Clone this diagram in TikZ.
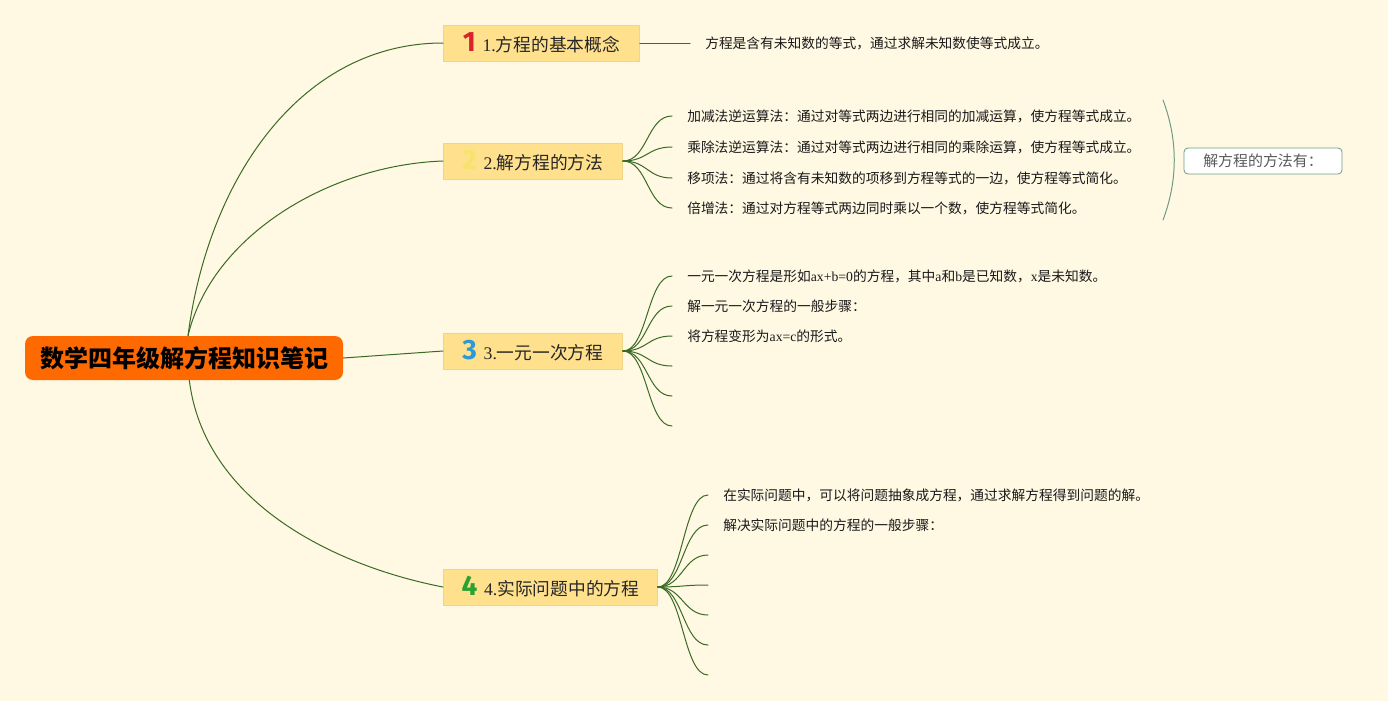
\documentclass[tikz,border=0pt]{standalone}
\usepackage{fontspec}
\setmainfont{Noto Sans CJK SC}
\newfontfamily\latin{Liberation Serif}
\newfontfamily\numfont{Fira Sans}
\newcommand{\lt}[1]{{\latin #1}}
\newcommand{\topicnum}[2]{{\numfont\bfseries\fontsize{21}{21}\selectfont\textcolor{#1}{#2}}\hspace{5pt}}

\definecolor{bgcream}{HTML}{FFF8E3}
\definecolor{linegreen}{HTML}{3A6B24}
\definecolor{topicfill}{HTML}{FFE18D}
\definecolor{topicdraw}{HTML}{F0D48A}
\definecolor{rootfill}{HTML}{FF6A00}
\definecolor{numred}{HTML}{D8232A}
\definecolor{numyellow}{HTML}{F7E36B}
\definecolor{numblue}{HTML}{2C9AD6}
\definecolor{numgreen}{HTML}{2BA12F}
\definecolor{summline}{HTML}{6E9C84}

\tikzset{
  root/.style={
    fill=rootfill, rounded corners=6pt,
    minimum width=238.5pt, minimum height=33pt,
    font=\bfseries\fontsize{18}{20}\selectfont, text=black
  },
  topic/.style={
    anchor=west, fill=topicfill, draw=topicdraw, line width=0.6pt,
    minimum height=27pt, inner xsep=10pt,
    font=\fontsize{13.3}{15}\selectfont, text=black!85
  },
  detail/.style={
    anchor=west, inner xsep=11.25pt, inner ysep=0pt,
    font=\fontsize{10.3}{12}\selectfont, text=black!90
  },
  link/.style={draw=linegreen, line width=0.75pt},
  summary/.style={
    draw=summline, fill=white, rounded corners=3pt, line width=0.6pt,
    minimum width=118.5pt, minimum height=19.5pt,
    font=\fontsize{11.2}{13}\selectfont, text=black!65
  }
}

\begin{document}
\begin{tikzpicture}[
  x=0.75pt,
  y=-0.75pt,
  line cap=round,
  line join=round
]
  % 背景
  \fill[bgcream] (0,0) rectangle (1388,701);
  \useasboundingbox (0,0) rectangle (1388,701);

  % 中心主题
  \node[root] (root) at (184,358) {数学四年级解方程知识笔记};

  % 分支主题
  \node[topic, minimum width=147pt] (t1) at (443,43)
    {\topicnum{numred}{1}\lt{1.}方程的基本概念};
  \node[topic, minimum width=134.25pt] (t2) at (443,161)
    {\topicnum{numyellow}{2}\lt{2.}解方程的方法};
  \node[topic, minimum width=134.25pt] (t3) at (443,351)
    {\topicnum{numblue}{3}\lt{3.}一元一次方程};
  \node[topic, minimum width=160.5pt] (t4) at (443,587)
    {\topicnum{numgreen}{4}\lt{4.}实际问题中的方程};

  % 中心到分支
  \draw[link] ([xshift=3pt]root.north) .. controls (208,180) and (300,43) .. (t1.west);
  \draw[link] ([xshift=3pt]root.north) .. controls (212,235) and (330,165) .. (t2.west);
  \draw[link] (root.east) -- (t3.west);
  \draw[link] ([xshift=4pt]root.south) .. controls (204,500) and (330,565) .. (t4.west);

  % 1. 方程的基本概念
  \node[detail] (d11) at (690,43)
    {方程是含有未知数的等式，通过求解未知数使等式成立。};
  \draw[link] (t1.east) -- (d11.west);

  % 2. 解方程的方法
  \node[detail] (d21) at (672,116)
    {加减法逆运算法：通过对等式两边进行相同的加减运算，使方程等式成立。};
  \node[detail] (d22) at (672,147)
    {乘除法逆运算法：通过对等式两边进行相同的乘除运算，使方程等式成立。};
  \node[detail] (d23) at (672,178)
    {移项法：通过将含有未知数的项移到方程等式的一边，使方程等式简化。};
  \node[detail] (d24) at (672,208)
    {倍增法：通过对方程等式两边同时乘以一个数，使方程等式简化。};
  \foreach \n in {d21,d22,d23,d24}
    \draw[link] (t2.east) .. controls +(25,0) and +(-25,0) .. (\n.west);

  % 概要
  \coordinate (sumtop) at (1163,100);
  \coordinate (sumbot) at (1163,220);
  \draw[summline, line width=0.75pt]
    (sumtop) .. controls (1178,140) and (1178,180) .. (sumbot);
  \node[summary] (sum) at (1263,161) {解方程的方法有：};

  % 3. 一元一次方程
  \node[detail] (d31) at (672,276)
    {一元一次方程是形如\lt{ax+b=0}的方程，其中\lt{a}和\lt{b}是已知数，\lt{x}是未知数。};
  \node[detail] (d32) at (672,306) {解一元一次方程的一般步骤：};
  \node[detail] (d33) at (672,336) {将方程变形为\lt{ax=c}的形式。};
  \coordinate (d34) at (672,366);
  \coordinate (d35) at (672,396);
  \coordinate (d36) at (672,426);
  \foreach \n in {d31,d32,d33}
    \draw[link] (t3.east) .. controls +(25,0) and +(-25,0) .. (\n.west);
  \foreach \n in {d34,d35,d36}
    \draw[link] (t3.east) .. controls +(25,0) and +(-25,0) .. (\n);

  % 4. 实际问题中的方程
  \node[detail] (d41) at (708,495)
    {在实际问题中，可以将问题抽象成方程，通过求解方程得到问题的解。};
  \node[detail] (d42) at (708,525) {解决实际问题中的方程的一般步骤：};
  \coordinate (d43) at (708,555);
  \coordinate (d44) at (708,585);
  \coordinate (d45) at (708,615);
  \coordinate (d46) at (708,645);
  \coordinate (d47) at (708,675);
  \foreach \n in {d41,d42}
    \draw[link] (t4.east) .. controls +(25,0) and +(-25,0) .. (\n.west);
  \foreach \n in {d43,d44,d45,d46,d47}
    \draw[link] (t4.east) .. controls +(25,0) and +(-25,0) .. (\n);
\end{tikzpicture}
\end{document}
